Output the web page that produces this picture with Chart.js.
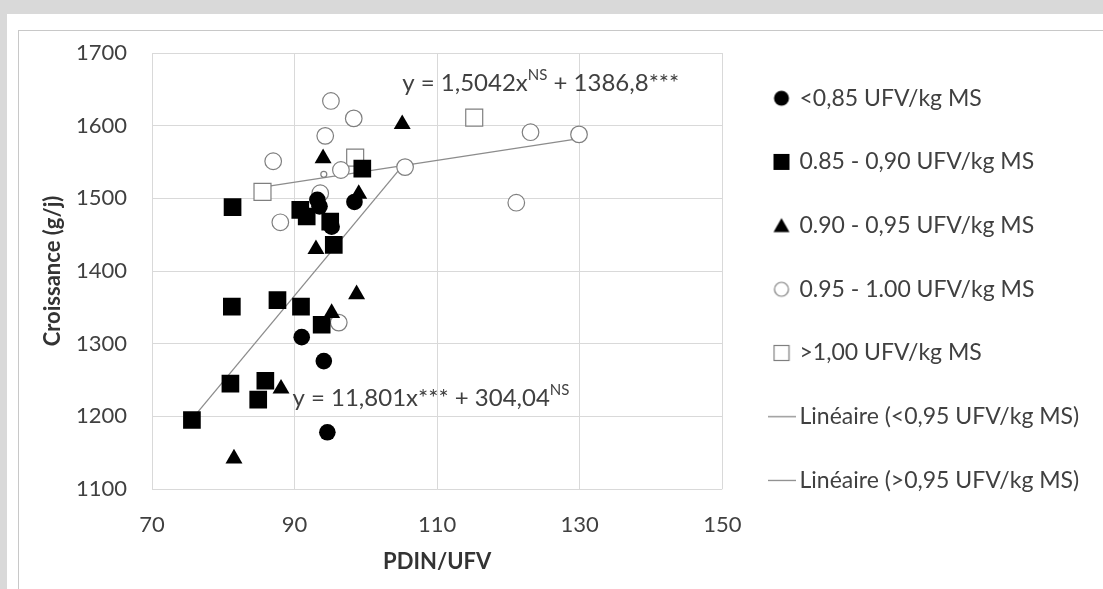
<!DOCTYPE html>
<html>
<head>
<meta charset="utf-8">
<script src="https://cdn.jsdelivr.net/npm/chart.js@4.4.1/dist/chart.umd.min.js"></script>
<style>
body { margin:0; background:#d9d9d9; width:1103px; height:589px; overflow:hidden; position:relative; }
#panel { position:absolute; left:7px; top:14px; right:0; bottom:0; background:#fff; }
#cadre { position:absolute; left:18px; top:30px; width:1200px; height:700px; border:1px solid #c8c8c8; }
#boite { position:absolute; left:0; top:0; width:1103px; height:589px; }
</style>
</head>
<body>
<div id="panel"></div>
<div id="cadre"></div>
<div id="boite"><canvas id="canva1" width="1103" height="589"></canvas></div>
<script>
// PDIN/UFV (x) et croissance g/j (y) par classe d'UFV/kg MS
var noms = ["<0,85 UFV/kg MS", "0.85 - 0,90 UFV/kg MS", "0.90 - 0,95 UFV/kg MS", "0.95 - 1.00 UFV/kg MS", ">1,00 UFV/kg MS",
            "Linéaire (<0,95 UFV/kg MS)", "Linéaire (>0,95 UFV/kg MS)"]

var g1_x = [93.2, 93.5, 98.4, 95.2, 91.0, 94.1, 94.6]
var g1_y = [1498, 1489, 1495, 1461, 1309, 1276, 1178]

var g2_x = [81.3, 90.8, 91.7, 99.5, 95.0, 95.5, 81.2, 87.6, 90.9, 93.8, 81.0, 85.9, 84.9, 75.6]
var g2_y = [1488, 1484, 1475, 1541, 1468, 1436, 1351, 1360, 1351, 1326, 1245, 1249, 1223, 1195]

var g3_x = [94.0, 105.1, 99.0, 93.0, 98.7, 95.2, 88.1, 81.5]
var g3_y = [1555, 1602, 1506, 1430, 1368, 1342, 1238, 1142]

var g4_x = [87.0, 88.0, 95.1, 98.3, 94.3, 96.5, 94.1, 105.5, 123.1, 129.9, 121.1, 93.6, 96.2]
var g4_y = [1551, 1467, 1634, 1610, 1586, 1539, 1533, 1543, 1591, 1588, 1494, 1507, 1329]

var g5_x = [85.5, 98.5, 115.2]
var g5_y = [1509, 1556, 1611]

// droites de régression
var pente1 = 11.801, origine1 = 304.04
var pente2 = 1.5042, origine2 = 1386.8

var xTicks = [70, 90, 110, 130, 150]
var yTicks = [1100, 1200, 1300, 1400, 1500, 1600, 1700]

function points(xs, ys){
  return xs.map(function(x, i){ return {x: x, y: ys[i]} })
}

function droite(xs, pente, origine){
  var a = Math.min.apply(null, xs), b = Math.max.apply(null, xs)
  return [{x: a, y: pente * a + origine}, {x: b, y: pente * b + origine}]
}

var gris = "#7f7f7f"
var texte = "#404040"
var police = "Lato"

// légende : taille de police, espacement, et largeur pour la caler à droite
var tailleLegende = 23
var espaceLegende = 40.7
var boiteLegende = 13
var mesure = document.createElement("canvas").getContext("2d")
mesure.font = tailleLegende + "px " + police
var largeurLegende = espaceLegende + boiteLegende + tailleLegende / 2 + mesure.measureText(noms[6]).width + 10
var margeDroite = 1103 - 734.3 - largeurLegende

// petites icones pour la légende
function icone(forme){
  var c = document.createElement("canvas")
  if(forme == "ligne"){ c.width = 28; c.height = 3 } else { c.width = 18; c.height = 18 }
  var g = c.getContext("2d")
  g.fillStyle = "#000"; g.strokeStyle = gris; g.lineWidth = 1.2
  if(forme == "rond"){ g.beginPath(); g.arc(9, 9, 7.5, 0, Math.PI*2); g.fill() }
  if(forme == "carre"){ g.fillRect(1, 1, 16, 16) }
  if(forme == "triangle"){ g.beginPath(); g.moveTo(9, 1.5); g.lineTo(17, 15.5); g.lineTo(1, 15.5); g.closePath(); g.fill() }
  if(forme == "rondVide"){ g.fillStyle = "#fff"; g.beginPath(); g.arc(9, 9, 7, 0, Math.PI*2); g.fill(); g.stroke() }
  if(forme == "carreVide"){ g.fillStyle = "#fff"; g.fillRect(1.5, 1.5, 15, 15); g.strokeRect(1.5, 1.5, 15, 15) }
  if(forme == "ligne"){ g.strokeStyle = "#8c8c8c"; g.lineWidth = 1.3; g.beginPath(); g.moveTo(0, 1.5); g.lineTo(28, 1.5); g.stroke() }
  return c
}
var icones = [icone("rond"), icone("carre"), icone("triangle"), icone("rondVide"), icone("carreVide"), icone("ligne"), icone("ligne")]

// texte des équations (avec exposants)
function ecrire(ctx, morceaux, x, y){
  ctx.save()
  ctx.fillStyle = texte
  ctx.textBaseline = "middle"
  ctx.textAlign = "left"
  morceaux.forEach(function(m){
    ctx.font = m[1] ? "15px " + police : "24px " + police
    ctx.fillText(m[0], x, m[1] ? y - 8 : y)
    x += ctx.measureText(m[0]).width
  })
  ctx.restore()
}

var equations = {
  id: "equations",
  afterDatasetsDraw: function(chart){
    var sx = chart.scales.x, sy = chart.scales.y
    ecrire(chart.ctx, [["y = 1,5042x", false], ["NS", true], [" + 1386,8***", false]],
      sx.getPixelForValue(105.1), sy.getPixelForValue(1658))
    ecrire(chart.ctx, [["y = 11,801x*** + 304,04", false], ["NS", true]],
      sx.getPixelForValue(89.7), sy.getPixelForValue(1225))
  }
}

var config = {
  type: "scatter",
  data: {
    datasets: [
      { label: noms[0], data: points(g1_x, g1_y), pointStyle: "circle", pointRadius: 8.3,
        backgroundColor: "#000", borderColor: "#000", borderWidth: 0 },
      { label: noms[1], data: points(g2_x, g2_y), pointStyle: "rect", pointRadius: 12.5,
        backgroundColor: "#000", borderColor: "#000", borderWidth: 0 },
      { label: noms[2], data: points(g3_x, g3_y), pointStyle: "triangle", pointRadius: 9.8,
        backgroundColor: "#000", borderColor: "#000", borderWidth: 0 },
      { label: noms[3], data: points(g4_x, g4_y), pointStyle: "circle",
        pointRadius: [8.3, 8.3, 8.3, 8.3, 8.3, 8.3, 3, 8.3, 8.3, 8.3, 8.3, 8.3, 8.3],
        backgroundColor: "#fff", borderColor: gris, borderWidth: 1.2 },
      { label: noms[4], data: points(g5_x, g5_y), pointStyle: "rect", pointRadius: 12,
        backgroundColor: "#fff", borderColor: gris, borderWidth: 1.2 },
      { label: noms[5], type: "line", data: droite(g1_x.concat(g2_x, g3_x), pente1, origine1),
        borderColor: "#8c8c8c", borderWidth: 1.3, pointRadius: 0, fill: false },
      { label: noms[6], type: "line", data: droite(g4_x.concat(g5_x), pente2, origine2),
        borderColor: "#8c8c8c", borderWidth: 1.3, pointRadius: 0, fill: false }
    ]
  },
  options: {
    responsive: false,
    animation: false,
    events: [],
    layout: { padding: { top: 46, left: 20, right: margeDroite, bottom: 16 } },
    scales: {
      x: {
        type: "linear", position: "bottom", min: 70, max: 150,
        afterBuildTicks: function(s){ s.ticks = xTicks.map(function(v){ return {value: v} }) },
        ticks: { padding: 23, color: texte, font: { family: police, size: 22 },
                 callback: function(v){ return String(v) } },
        grid: { color: "#d9d9d9", drawTicks: false },
        border: { display: false },
        title: { display: true, text: "PDIN/UFV", color: "#333", font: { family: police, size: 22, weight: "bold" },
                 padding: { top: 0, bottom: -2 } },
        afterFit: function(s){ s.height = 84 }
      },
      y: {
        type: "linear", position: "left", min: 1100, max: 1700,
        afterBuildTicks: function(s){ s.ticks = yTicks.map(function(v){ return {value: v} }) },
        ticks: { padding: 25, color: texte, font: { family: police, size: 22 },
                 callback: function(v){ return String(v) } },
        grid: { color: "#d9d9d9", drawTicks: false },
        border: { display: false },
        title: { display: true, text: "Croissance (g/j)", color: "#333", font: { family: police, size: 22, weight: "bold" },
                 padding: { top: 20, bottom: 0 } },
        afterFit: function(s){ s.width = 132 }
      },
      // axes vides, juste pour caler la zone du graphique
      haut: { type: "linear", axis: "x", position: "top", display: true,
        ticks: { display: false }, grid: { display: false, drawTicks: false }, border: { display: false },
        afterFit: function(s){ s.height = 7 } },
      droite: { type: "linear", axis: "y", position: "right", display: true,
        ticks: { display: false }, grid: { display: false, drawTicks: false }, border: { display: false },
        afterFit: function(s){ s.width = 12 } }
    },
    plugins: {
      tooltip: { enabled: false },
      legend: {
        position: "right", align: "start", maxWidth: 800,
        labels: {
          usePointStyle: true, boxWidth: boiteLegende, boxHeight: boiteLegende, padding: espaceLegende,
          color: texte, font: { family: police, size: tailleLegende },
          generateLabels: function(chart){
            var items = Chart.defaults.plugins.legend.labels.generateLabels(chart)
            items.forEach(function(it, i){ it.pointStyle = icones[i] })
            return items
          }
        }
      }
    }
  },
  plugins: [equations]
}

const ctx = document.getElementById("canva1").getContext("2d")
window.chart = new Chart(ctx, config)
</script>
</body>
</html>
